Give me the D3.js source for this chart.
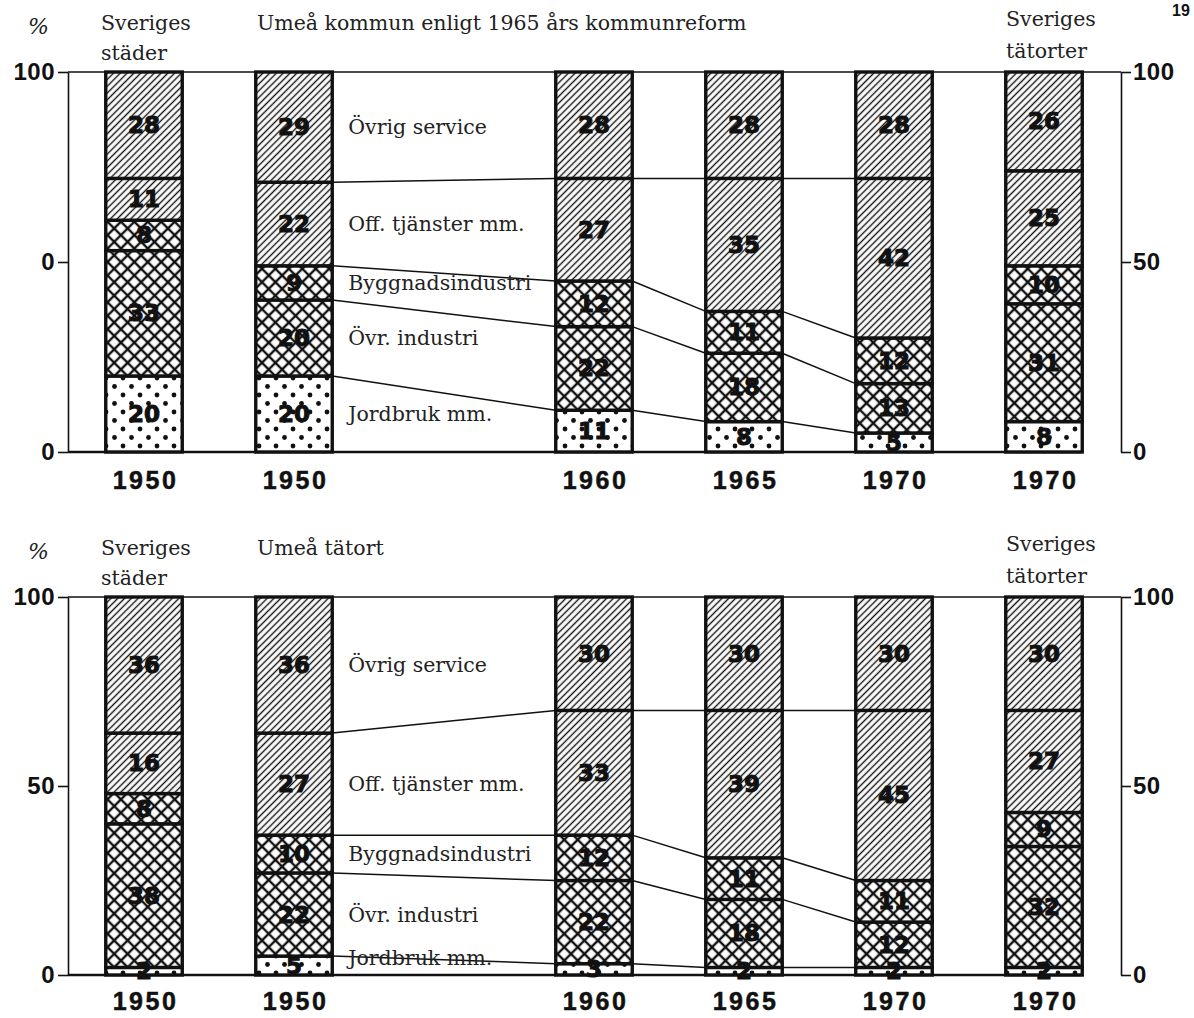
<!DOCTYPE html>
<html>
<head>
<meta charset="utf-8">
<script src="https://cdn.jsdelivr.net/npm/d3@7"></script>
<style>
	body { margin: 0; background: #fff; }
	svg { display: block; }
</style>
</head>
<body>
<div id="my_dataviz"></div>
<script>
const categories = ["Jordbruk mm.", "Övr. industri", "Byggnadsindustri", "Off. tjänster mm.", "Övrig service"];
const barKeys = ["städer1950", "umea1950", "umea1960", "umea1965", "umea1970", "tatorter1970"];
const years = ["1950", "1950", "1960", "1965", "1970", "1970"];

// Umeå kommun enligt 1965 års kommunreform
const topJordbruk = [20, 20, 11, 8, 5, 8];
const topOvrIndustri = [33, 20, 22, 18, 13, 31];
const topBygg = [8, 9, 12, 11, 12, 10];
const topOff = [11, 22, 27, 35, 42, 25];
const topService = [28, 29, 28, 28, 28, 26];

// Umeå tätort
const botJordbruk = [2, 5, 3, 2, 2, 2];
const botOvrIndustri = [38, 22, 22, 18, 12, 32];
const botBygg = [8, 10, 12, 11, 11, 9];
const botOff = [16, 27, 33, 39, 45, 27];
const botService = [36, 36, 30, 30, 30, 30];

const tickValues = [0, 50, 100];
const topLeftTicks = ["0", "0", "100"];
const topRightTicks = ["0", "50", "100"];
const botLeftTicks = ["0", "50", "100"];
const botRightTicks = ["0", "50", "100"];

var width = 1194, height = 1018;
var serif = "'DejaVu Serif', serif";
var sans = "'Liberation Sans', Arial, sans-serif";

var svg = d3
	.select("#my_dataviz")
	.append("svg")
	.attr("width", width)
	.attr("height", height);

// patterns
var defs = svg.append("defs");
var hatch = defs.append("pattern")
	.attr("id", "hatch")
	.attr("patternUnits", "userSpaceOnUse")
	.attr("width", 4.8).attr("height", 4.8)
	.attr("patternTransform", "rotate(45)");
hatch.append("rect").attr("width", 4.8).attr("height", 4.8).attr("fill", "#fff");
hatch.append("line").attr("x1", 2.4).attr("y1", 0).attr("x2", 2.4).attr("y2", 4.8)
	.attr("stroke", "#111").attr("stroke-width", 1.4);

var cross = defs.append("pattern")
	.attr("id", "cross")
	.attr("patternUnits", "userSpaceOnUse")
	.attr("width", 9.5).attr("height", 9.5)
	.attr("patternTransform", "rotate(45)");
cross.append("rect").attr("width", 9.5).attr("height", 9.5).attr("fill", "#fff");
cross.append("path").attr("d", "M4.75,0V9.5M0,4.75H9.5")
	.attr("stroke", "#111").attr("stroke-width", 2.4);

var dots = defs.append("pattern")
	.attr("id", "dots")
	.attr("patternUnits", "userSpaceOnUse")
	.attr("width", 17).attr("height", 17);
dots.append("rect").attr("width", 17).attr("height", 17).attr("fill", "#fff");
dots.append("circle").attr("cx", 4).attr("cy", 4).attr("r", 2.4).attr("fill", "#111");
dots.append("circle").attr("cx", 12.5).attr("cy", 12.5).attr("r", 2.4).attr("fill", "#111");

var fills = ["url(#dots)", "url(#cross)", "url(#cross)", "url(#hatch)", "url(#hatch)"];

// bar slots, with an empty slot after the second bar
var slots = barKeys.slice(0, 2).concat(["gap"], barKeys.slice(2));
var x = d3.scaleBand()
	.domain(slots)
	.range([69, 1119])
	.paddingInner(0.49)
	.paddingOuter(0.245);

function drawPanel(cfg) {
	var y = d3.scaleLinear().domain([0, 100]).range(cfg.range);
	var g = svg.append("g");

	var rows = barKeys.map(function (k, i) {
		var r = { key: k };
		cfg.series.forEach(function (s, j) { r[categories[j]] = s[i]; });
		return r;
	});
	var stacked = d3.stack().keys(categories)(rows);

	// 100 line and baseline
	g.append("line")
		.attr("x1", 68).attr("x2", 1121)
		.attr("y1", y(100)).attr("y2", y(100))
		.attr("stroke", "#111").attr("stroke-width", 1.6);
	g.append("line")
		.attr("x1", 68).attr("x2", x(barKeys[5]) + x.bandwidth())
		.attr("y1", y(0)).attr("y2", y(0))
		.attr("stroke", "#111").attr("stroke-width", 2.4);

	// connector lines between the Umeå bars
	for (var b = 1; b < 4; b++) {
		for (var s = 0; s < 4; s++) {
			g.append("line")
				.attr("x1", x(barKeys[b]) + x.bandwidth())
				.attr("y1", y(stacked[s][b][1]))
				.attr("x2", x(barKeys[b + 1]))
				.attr("y2", y(stacked[s][b + 1][1]))
				.attr("stroke", "#111").attr("stroke-width", 1.5);
		}
	}

	// bars
	stacked.forEach(function (layer, j) {
		g.append("g")
			.selectAll("rect")
			.data(layer)
			.enter()
			.append("rect")
			.attr("x", function (d) { return x(d.data.key); })
			.attr("y", function (d) { return y(d[1]); })
			.attr("width", x.bandwidth())
			.attr("height", function (d) { return y(d[0]) - y(d[1]); })
			.attr("fill", fills[j])
			.attr("stroke", "#111")
			.attr("stroke-width", 3.4);
	});

	// values in bars
	stacked.forEach(function (layer) {
		g.append("g")
			.selectAll("text")
			.data(layer)
			.enter()
			.append("text")
			.attr("x", function (d) { return x(d.data.key) + x.bandwidth() / 2; })
			.attr("y", function (d) { return y((d[0] + d[1]) / 2); })
			.attr("text-anchor", "middle")
			.attr("dominant-baseline", "central")
			.style("font-family", "'DejaVu Sans', sans-serif")
			.style("font-weight", "bold")
			.style("font-size", "23px")
			.attr("fill", "#111")
			.attr("stroke", "#111")
			.attr("stroke-width", 1)
			.text(function (d) { return d[1] - d[0]; });
	});

	// category names beside the second bar
	g.append("g")
		.selectAll("text")
		.data(stacked)
		.enter()
		.append("text")
		.attr("x", x(barKeys[1]) + x.bandwidth() + 16)
		.attr("y", function (d) { return Math.min(y((d[1][0] + d[1][1]) / 2), y(0) - 17); })
		.attr("dominant-baseline", "central")
		.style("font-family", serif)
		.style("font-size", "20.5px")
		.attr("fill", "#222")
		.text(function (d) { return d.key; });

	// axes
	var left = g.append("g")
		.attr("transform", "translate(68,0)")
		.call(d3.axisLeft(y).tickValues(tickValues)
			.tickFormat(function (d, i) { return cfg.leftTicks[i]; })
			.tickSize(10).tickSizeOuter(0).tickPadding(3));
	var right = g.append("g")
		.attr("transform", "translate(1121,0)")
		.call(d3.axisRight(y).tickValues(tickValues)
			.tickFormat(function (d, i) { return cfg.rightTicks[i]; })
			.tickSize(10).tickSizeOuter(0).tickPadding(2));
	[left, right].forEach(function (a) {
		a.select(".domain").attr("stroke", "#111").attr("stroke-width", 1.6);
		a.selectAll(".tick line").attr("stroke", "#111").attr("stroke-width", 1.6);
		a.selectAll(".tick text")
			.style("font-family", sans)
			.style("font-weight", "bold")
			.style("font-size", "24px")
			.style("letter-spacing", "0.5px")
			.attr("fill", "#111");
	});

	// year labels
	g.append("g")
		.selectAll("text")
		.data(barKeys)
		.enter()
		.append("text")
		.attr("x", function (d) { return x(d) + x.bandwidth() / 2 + 1.5; })
		.attr("y", cfg.yearY)
		.attr("text-anchor", "middle")
		.style("font-family", sans)
		.style("font-weight", "bold")
		.style("font-size", "25px")
		.style("letter-spacing", "2.5px")
		.attr("fill", "#111")
		.attr("stroke", "#111")
		.attr("stroke-width", 0.5)
		.text(function (d, i) { return years[i]; });

	// headings
	var t = cfg.top;
	g.append("text").attr("x", 28).attr("y", t + 4)
		.style("font-family", serif).style("font-style", "italic").style("font-size", "22px")
		.attr("fill", "#222").text("%");
	g.append("text").attr("x", 101).attr("y", t)
		.style("font-family", serif).style("font-size", "20.5px").attr("fill", "#222").text("Sveriges");
	g.append("text").attr("x", 101).attr("y", t + 30)
		.style("font-family", serif).style("font-size", "20.5px").attr("fill", "#222").text("städer");
	g.append("text").attr("x", 257).attr("y", t)
		.style("font-family", serif).style("font-size", "20.5px").attr("fill", "#222").text(cfg.title);
	g.append("text").attr("x", 1006).attr("y", t - 4)
		.style("font-family", serif).style("font-size", "20.5px").attr("fill", "#222").text("Sveriges");
	g.append("text").attr("x", 1006).attr("y", t + 28)
		.style("font-family", serif).style("font-size", "20.5px").attr("fill", "#222").text("tätorter");
}

drawPanel({
	range: [452, 72],
	series: [topJordbruk, topOvrIndustri, topBygg, topOff, topService],
	leftTicks: topLeftTicks,
	rightTicks: topRightTicks,
	yearY: 489,
	top: 30,
	title: "Umeå kommun enligt 1965 års kommunreform"
});

drawPanel({
	range: [975, 597],
	series: [botJordbruk, botOvrIndustri, botBygg, botOff, botService],
	leftTicks: botLeftTicks,
	rightTicks: botRightTicks,
	yearY: 1010,
	top: 555,
	title: "Umeå tätort"
});

// page number in the top right corner
svg.append("text")
	.attr("x", 1172).attr("y", 16)
	.style("font-family", sans)
	.style("font-weight", "bold")
	.style("font-size", "16px")
	.attr("fill", "#111")
	.text("19");
</script>
</body>
</html>
